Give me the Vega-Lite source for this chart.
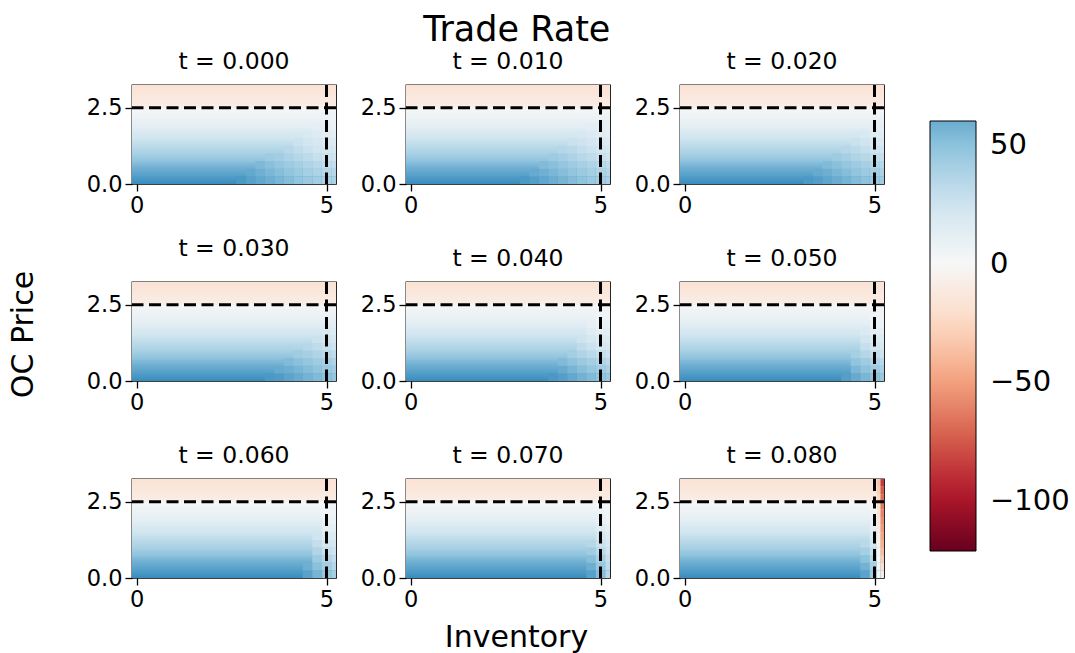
{
"$schema":"https://vega.github.io/schema/vega-lite/v6.json",
"background":"white",
"padding":{"left":7,"top":13,"right":5,"bottom":2},
"title":{"text":"Trade Rate","fontSize":35,"anchor":"middle","frame":"bounds","offset":1,"dx":-22},
"datasets":{
"cols":[{"k":"cB","x0":-0.125,"x1":5.25},{"k":"c275","x0":2.625,"x1":2.875},{"k":"c300","x0":2.875,"x1":3.125},{"k":"c325","x0":3.125,"x1":3.375},{"k":"c350","x0":3.375,"x1":3.625},{"k":"c375","x0":3.625,"x1":3.875},{"k":"c400","x0":3.875,"x1":4.125},{"k":"c425","x0":4.125,"x1":4.375},{"k":"c450","x0":4.375,"x1":4.625},{"k":"c475","x0":4.625,"x1":4.875},{"k":"c500","x0":4.875,"x1":5.125},{"k":"c519","x0":5.125,"x1":5.25},{"k":"d2","x0":4.875,"x1":5.0625},{"k":"d3","x0":5.0625,"x1":5.15625},{"k":"d4","x0":5.15625,"x1":5.25}],
"one":[{"a":1}],
"heat":[
{"p":-1,"y0":0,"y1":0.0925,"cB":73.7},
{"p":-1,"y0":0.0625,"y1":0.155,"cB":71.7},
{"p":-1,"y0":0.125,"y1":0.2175,"cB":69.7},
{"p":-1,"y0":0.1875,"y1":0.28,"cB":67.8},
{"p":-1,"y0":0.25,"y1":0.3425,"cB":65.8},
{"p":-1,"y0":0.3125,"y1":0.405,"cB":63.8},
{"p":-1,"y0":0.375,"y1":0.4675,"cB":61.8},
{"p":-1,"y0":0.4375,"y1":0.53,"cB":60.1},
{"p":-1,"y0":0.5,"y1":0.5925,"cB":58.1},
{"p":-1,"y0":0.5625,"y1":0.655,"cB":55.7},
{"p":-1,"y0":0.625,"y1":0.7175,"cB":53.3},
{"p":-1,"y0":0.6875,"y1":0.78,"cB":50.8},
{"p":-1,"y0":0.75,"y1":0.8425,"cB":48.4},
{"p":-1,"y0":0.8125,"y1":0.905,"cB":46},
{"p":-1,"y0":0.875,"y1":0.9675,"cB":43.6},
{"p":-1,"y0":0.9375,"y1":1.03,"cB":41.2},
{"p":-1,"y0":1,"y1":1.0925,"cB":38.9},
{"p":-1,"y0":1.0625,"y1":1.155,"cB":37},
{"p":-1,"y0":1.125,"y1":1.2175,"cB":35},
{"p":-1,"y0":1.1875,"y1":1.28,"cB":33.1},
{"p":-1,"y0":1.25,"y1":1.3425,"cB":31.1},
{"p":-1,"y0":1.3125,"y1":1.405,"cB":29.1},
{"p":-1,"y0":1.375,"y1":1.4675,"cB":27.2},
{"p":-1,"y0":1.4375,"y1":1.53,"cB":25.2},
{"p":-1,"y0":1.5,"y1":1.5925,"cB":23.3},
{"p":-1,"y0":1.5625,"y1":1.655,"cB":21.5},
{"p":-1,"y0":1.625,"y1":1.7175,"cB":19.7},
{"p":-1,"y0":1.6875,"y1":1.78,"cB":17.9},
{"p":-1,"y0":1.75,"y1":1.8425,"cB":16},
{"p":-1,"y0":1.8125,"y1":1.905,"cB":14.2},
{"p":-1,"y0":1.875,"y1":1.9675,"cB":12.4},
{"p":-1,"y0":1.9375,"y1":2.03,"cB":10.6},
{"p":-1,"y0":2,"y1":2.0925,"cB":9.1},
{"p":-1,"y0":2.0625,"y1":2.155,"cB":8.1},
{"p":-1,"y0":2.125,"y1":2.2175,"cB":7},
{"p":-1,"y0":2.1875,"y1":2.28,"cB":6},
{"p":-1,"y0":2.25,"y1":2.3425,"cB":4.9},
{"p":-1,"y0":2.3125,"y1":2.405,"cB":3.9},
{"p":-1,"y0":2.375,"y1":2.4675,"cB":2.8},
{"p":-1,"y0":2.4375,"y1":2.53,"cB":1.7},
{"p":-1,"y0":2.5,"y1":2.655,"cB":-9},
{"p":-1,"y0":2.625,"y1":2.78,"cB":-11},
{"p":-1,"y0":2.75,"y1":2.905,"cB":-12.5},
{"p":-1,"y0":2.875,"y1":3.03,"cB":-14},
{"p":-1,"y0":3,"y1":3.155,"cB":-15.5},
{"p":-1,"y0":3.125,"y1":3.25,"cB":-17},
{"p":0,"y0":0,"y1":0.25,"c275":69,"c300":65.8,"c325":62.3,"c350":58.8,"c375":55.3,"c400":51.8,"c425":48.3,"c450":44.8,"c475":41.3,"c500":38.9,"c519":38.9},
{"p":0,"y0":0.25,"y1":0.5,"c300":62,"c325":58.6,"c350":55.1,"c375":51.6,"c400":48.1,"c425":44.6,"c450":41.1,"c475":37.6,"c500":34.5,"c519":34.5},
{"p":0,"y0":0.5,"y1":0.75,"c325":54,"c350":51,"c375":47.5,"c400":44,"c425":40.5,"c450":37,"c475":33.5,"c500":30,"c519":30},
{"p":0,"y0":0.75,"y1":1,"c350":44,"c375":42,"c400":38.5,"c425":35,"c450":31.5,"c475":28,"c500":24.6,"c519":24.6},
{"p":0,"y0":1,"y1":1.25,"c400":34,"c425":30.4,"c450":26.9,"c475":23.4,"c500":19.9,"c519":19.8},
{"p":0,"y0":1.25,"y1":1.5,"c425":26,"c450":23.3,"c475":19.8,"c500":16.3,"c519":15.5},
{"p":0,"y0":1.5,"y1":1.75,"c450":19,"c475":16.4,"c500":12.9,"c519":11.3},
{"p":0,"y0":1.75,"y1":2,"c475":12,"c500":9.8,"c519":7.3},
{"p":0,"y0":2,"y1":2.25,"c500":7,"c519":6},
{"p":1,"y0":0,"y1":0.25,"c300":69,"c325":66.4,"c350":62.9,"c375":59.4,"c400":55.9,"c425":52.4,"c450":48.9,"c475":45.4,"c500":41.9,"c519":39.2},
{"p":1,"y0":0.25,"y1":0.5,"c325":61,"c350":58.7,"c375":55.2,"c400":51.7,"c425":48.2,"c450":44.7,"c475":41.2,"c500":37.7,"c519":35.1},
{"p":1,"y0":0.5,"y1":0.75,"c350":53,"c375":50.9,"c400":47.4,"c425":43.9,"c450":40.4,"c475":36.9,"c500":33.4,"c519":30.7},
{"p":1,"y0":0.75,"y1":1,"c375":43.5,"c400":41.4,"c425":37.9,"c450":34.4,"c475":30.9,"c500":27.4,"c519":24.8},
{"p":1,"y0":1,"y1":1.25,"c400":35,"c425":33,"c450":29.6,"c475":26.1,"c500":22.6,"c519":19.9},
{"p":1,"y0":1.25,"y1":1.5,"c425":27,"c450":25.5,"c475":22,"c500":18.5,"c519":15.9},
{"p":1,"y0":1.5,"y1":1.75,"c450":20,"c475":18.4,"c500":14.9,"c519":12.2},
{"p":1,"y0":1.75,"y1":2,"c475":13,"c500":11.3,"c519":8.7},
{"p":2,"y0":0,"y1":0.25,"c325":69,"c350":66.8,"c375":63.3,"c400":59.8,"c425":56.3,"c450":52.8,"c475":49.3,"c500":45.8,"c519":43.2},
{"p":2,"y0":0.25,"y1":0.5,"c350":61,"c375":58.9,"c400":55.4,"c425":51.9,"c450":48.4,"c475":44.9,"c500":41.4,"c519":38.8},
{"p":2,"y0":0.5,"y1":0.75,"c375":53,"c400":50.6,"c425":47.1,"c450":43.6,"c475":40.1,"c500":36.6,"c519":34},
{"p":2,"y0":0.75,"y1":1,"c400":43.5,"c425":40.9,"c450":37.4,"c475":33.9,"c500":30.4,"c519":27.8},
{"p":2,"y0":1,"y1":1.25,"c425":35,"c450":32.1,"c475":28.6,"c500":25.1,"c519":22.5},
{"p":2,"y0":1.25,"y1":1.5,"c450":27,"c475":24.3,"c500":20.8,"c519":18.2},
{"p":2,"y0":1.5,"y1":1.75,"c475":19,"c500":16.7,"c519":14.1},
{"p":2,"y0":1.75,"y1":2,"c500":12,"c519":10.3},
{"p":3,"y0":0,"y1":0.25,"c350":69,"c375":67.3,"c400":63.8,"c425":60.3,"c450":56.8,"c475":53.3,"c500":49.8,"c519":47.2},
{"p":3,"y0":0.25,"y1":0.5,"c375":61,"c400":59.2,"c425":55.7,"c450":52.2,"c475":48.7,"c500":45.2,"c519":42.5},
{"p":3,"y0":0.5,"y1":0.75,"c400":53,"c425":50.4,"c450":46.9,"c475":43.4,"c500":39.9,"c519":37.3},
{"p":3,"y0":0.75,"y1":1,"c425":43,"c450":40.5,"c475":37,"c500":33.5,"c519":30.8},
{"p":3,"y0":1,"y1":1.25,"c450":34,"c475":31.2,"c500":27.7,"c519":25.1},
{"p":3,"y0":1.25,"y1":1.5,"c475":26,"c500":23.2,"c519":20.5},
{"p":3,"y0":1.5,"y1":1.75,"c500":18.6,"c519":16},
{"p":3,"y0":1.75,"y1":2,"c519":12},
{"p":4,"y0":0,"y1":0.25,"c375":69.5,"c400":66.4,"c425":61.9,"c450":57.4,"c475":52.9,"c500":48.4,"c519":45},
{"p":4,"y0":0.25,"y1":0.5,"c400":60.5,"c425":56,"c450":51.5,"c475":47,"c500":42.5,"c519":39},
{"p":4,"y0":0.5,"y1":0.75,"c400":53,"c425":49.6,"c450":45.1,"c475":40.6,"c500":36.1,"c519":32.7},
{"p":4,"y0":0.75,"y1":1,"c425":41.9,"c450":37.4,"c475":32.9,"c500":28.4,"c519":25},
{"p":4,"y0":1,"y1":1.25,"c450":30.8,"c475":26.3,"c500":21.8,"c519":19.8},
{"p":4,"y0":1.25,"y1":1.5,"c450":25,"c475":20.5,"c500":16,"c519":15.5},
{"p":4,"y0":1.5,"y1":1.75,"c475":14.8,"c500":11.3,"c519":11.3},
{"p":4,"y0":1.75,"y1":2,"c475":9.5,"c500":7.3,"c519":7.3},
{"p":4,"y0":2,"y1":2.25,"c500":4.5,"c519":4.1},
{"p":5,"y0":0,"y1":0.25,"c425":66.3,"c450":60.8,"c475":55.3,"c500":49.8,"c519":45.6},
{"p":5,"y0":0.25,"y1":0.5,"c450":54.9,"c475":49.4,"c500":43.9,"c519":39.7},
{"p":5,"y0":0.5,"y1":0.75,"c450":48.6,"c475":43.1,"c500":37.6,"c519":33.4},
{"p":5,"y0":0.75,"y1":1,"c450":40.8,"c475":35.3,"c500":29.8,"c519":25.7},
{"p":5,"y0":1,"y1":1.25,"c475":28.7,"c500":23.2,"c519":19.8},
{"p":5,"y0":1.25,"y1":1.5,"c475":22.9,"c500":17.4,"c519":15.5},
{"p":5,"y0":1.5,"y1":1.75,"c475":17.3,"c500":11.8,"c519":11.3},
{"p":5,"y0":1.75,"y1":2,"c500":7.3,"c519":7.3},
{"p":5,"y0":2,"y1":2.25,"c500":4.5,"c519":4.1},
{"p":6,"y0":0,"y1":0.25,"c450":64.7,"c475":56,"c500":47.2,"c519":40.6},
{"p":6,"y0":0.25,"y1":0.5,"c450":58.9,"c475":50.2,"c500":41.4,"c519":34.8},
{"p":6,"y0":0.5,"y1":0.75,"c475":44,"c500":35.2,"c519":30},
{"p":6,"y0":0.75,"y1":1,"c475":36.4,"c500":27.6,"c519":24.6},
{"p":6,"y0":1,"y1":1.25,"c475":29.7,"c500":21,"c519":19.8},
{"p":6,"y0":1.25,"y1":1.5,"c475":24,"c500":15.5,"c519":15.5},
{"p":6,"y0":1.5,"y1":1.75,"c500":11.3,"c519":11.3},
{"p":6,"y0":1.75,"y1":2,"c500":7.3,"c519":7.3},
{"p":6,"y0":2,"y1":2.25,"c500":4.5,"c519":4.1},
{"p":7,"y0":0,"y1":0.25,"c475":65.5,"c500":52,"c519":35},
{"p":7,"y0":0.25,"y1":0.5,"c475":59.2,"c500":46,"c519":32},
{"p":7,"y0":0.5,"y1":0.75,"c475":51.5,"c500":40,"c519":28},
{"p":7,"y0":0.75,"y1":1,"c475":42.5,"c500":33,"c519":23},
{"p":7,"y0":1,"y1":1.25,"c475":34.5,"c500":27,"c519":19},
{"p":7,"y0":1.25,"y1":1.5,"c500":21,"c519":15},
{"p":7,"y0":1.5,"y1":1.75,"c500":15.5,"c519":11},
{"p":7,"y0":1.75,"y1":2,"c500":9.5,"c519":7.3},
{"p":7,"y0":2,"y1":2.25,"c519":4.1},
{"p":8,"y0":0,"y1":0.25,"c475":64,"d2":45,"d3":4,"d4":-10},
{"p":8,"y0":0.25,"y1":0.5,"c475":57,"d2":40,"d3":2,"d4":-20},
{"p":8,"y0":0.5,"y1":0.75,"c475":49.5,"d2":34,"d3":0,"d4":-30},
{"p":8,"y0":0.75,"y1":1,"c475":41,"d2":28,"d3":-3,"d4":-38},
{"p":8,"y0":1,"y1":1.25,"c475":33,"d2":22,"d3":-6,"d4":-44},
{"p":8,"y0":1.25,"y1":1.5,"d2":17,"d3":-9,"d4":-48},
{"p":8,"y0":1.5,"y1":1.75,"d2":12,"d3":-12,"d4":-52},
{"p":8,"y0":1.75,"y1":2,"d2":8,"d3":-15,"d4":-56},
{"p":8,"y0":2,"y1":2.25,"d2":5,"d3":-18,"d4":-60},
{"p":8,"y0":2.25,"y1":2.5,"d2":2,"d3":-21,"d4":-64},
{"p":8,"y0":2.5,"y1":2.75,"d3":-26,"d4":-68},
{"p":8,"y0":2.75,"y1":3,"d3":-30,"d4":-74},
{"p":8,"y0":3,"y1":3.25,"d3":-34,"d4":-85}
]},
"data":{"name":"heat"},
"transform":[
{"fold":["cB","c275","c300","c325","c350","c375","c400","c425","c450","c475","c500","c519","d2","d3","d4"],"as":["k","v"]},
{"filter":"isValid(datum.v)"},
{"lookup":"k","from":{"data":{"name":"cols"},"key":"k","fields":["x0","x1"]}}
],
"columns":3,
"bounds":"flush",
"spacing":{"row":98,"column":70},
"concat":[
{"title":"t = 0.000","width":204,"height":99,"layer":[
{"transform":[{"filter":"datum.p == -1 || datum.p == 0"}],"mark":{"type":"rect"},"encoding":{
"x":{"field":"x0","type":"quantitative","scale":{"domain":[-0.125,5.25],"nice":false,"zero":false},"axis":{"values":[0,5],"format":"d","title":null}},
"x2":{"field":"x1"},
"y":{"field":"y0","type":"quantitative","scale":{"domain":[0,3.25],"nice":false,"zero":false},"axis":{"values":[0,2.5],"format":".1f","title":null}},
"y2":{"field":"y1"},
"color":{"field":"v","type":"quantitative","scale":{"type":"linear","domain":[-121,-96.8,-72.6,-48.4,-24.2,0,24.2,48.4,60],"range":["#67001f","#b2182b","#d6604d","#f4a582","#fddbc7","#f7f7f7","#d1e5f0","#92c5de","#6aacd0"],"interpolate":"rgb","clamp":false,"zero":false,"nice":false},"legend":{"type":"gradient","orient":"none","legendX":798,"legendY":36,"direction":"vertical","values":[50,0,-50,-100],"title":null,"labelOffset":14,"labelExpr":"replace(datum.label, '-', '−')"}}}},
{"data":{"name":"one"},"mark":{"type":"rule","color":"black","strokeWidth":3,"strokeDash":[12,5.5]},"encoding":{"y":{"datum":2.5}}},
{"data":{"name":"one"},"mark":{"type":"rule","color":"black","strokeWidth":3,"strokeDash":[12,5.5]},"encoding":{"x":{"datum":5}}}
]},
{"title":"t = 0.010","width":204,"height":99,"layer":[
{"transform":[{"filter":"datum.p == -1 || datum.p == 1"}],"mark":{"type":"rect"},"encoding":{
"x":{"field":"x0","type":"quantitative","scale":{"domain":[-0.125,5.25],"nice":false,"zero":false},"axis":{"values":[0,5],"format":"d","title":null}},
"x2":{"field":"x1"},
"y":{"field":"y0","type":"quantitative","scale":{"domain":[0,3.25],"nice":false,"zero":false},"axis":{"values":[0,2.5],"format":".1f","title":null}},
"y2":{"field":"y1"},
"color":{"field":"v","type":"quantitative","scale":{"type":"linear","domain":[-121,-96.8,-72.6,-48.4,-24.2,0,24.2,48.4,60],"range":["#67001f","#b2182b","#d6604d","#f4a582","#fddbc7","#f7f7f7","#d1e5f0","#92c5de","#6aacd0"],"interpolate":"rgb","clamp":false,"zero":false,"nice":false},"legend":{"type":"gradient","orient":"none","legendX":798,"legendY":36,"direction":"vertical","values":[50,0,-50,-100],"title":null,"labelOffset":14,"labelExpr":"replace(datum.label, '-', '−')"}}}},
{"data":{"name":"one"},"mark":{"type":"rule","color":"black","strokeWidth":3,"strokeDash":[12,5.5]},"encoding":{"y":{"datum":2.5}}},
{"data":{"name":"one"},"mark":{"type":"rule","color":"black","strokeWidth":3,"strokeDash":[12,5.5]},"encoding":{"x":{"datum":5}}}
]},
{"title":"t = 0.020","width":204,"height":99,"layer":[
{"transform":[{"filter":"datum.p == -1 || datum.p == 2"}],"mark":{"type":"rect"},"encoding":{
"x":{"field":"x0","type":"quantitative","scale":{"domain":[-0.125,5.25],"nice":false,"zero":false},"axis":{"values":[0,5],"format":"d","title":null}},
"x2":{"field":"x1"},
"y":{"field":"y0","type":"quantitative","scale":{"domain":[0,3.25],"nice":false,"zero":false},"axis":{"values":[0,2.5],"format":".1f","title":null}},
"y2":{"field":"y1"},
"color":{"field":"v","type":"quantitative","scale":{"type":"linear","domain":[-121,-96.8,-72.6,-48.4,-24.2,0,24.2,48.4,60],"range":["#67001f","#b2182b","#d6604d","#f4a582","#fddbc7","#f7f7f7","#d1e5f0","#92c5de","#6aacd0"],"interpolate":"rgb","clamp":false,"zero":false,"nice":false},"legend":{"type":"gradient","orient":"none","legendX":798,"legendY":36,"direction":"vertical","values":[50,0,-50,-100],"title":null,"labelOffset":14,"labelExpr":"replace(datum.label, '-', '−')"}}}},
{"data":{"name":"one"},"mark":{"type":"rule","color":"black","strokeWidth":3,"strokeDash":[12,5.5]},"encoding":{"y":{"datum":2.5}}},
{"data":{"name":"one"},"mark":{"type":"rule","color":"black","strokeWidth":3,"strokeDash":[12,5.5]},"encoding":{"x":{"datum":5}}}
]},
{"title":"t = 0.030","width":204,"height":99,"layer":[
{"transform":[{"filter":"datum.p == -1 || datum.p == 3"}],"mark":{"type":"rect"},"encoding":{
"x":{"field":"x0","type":"quantitative","scale":{"domain":[-0.125,5.25],"nice":false,"zero":false},"axis":{"values":[0,5],"format":"d","title":null}},
"x2":{"field":"x1"},
"y":{"field":"y0","type":"quantitative","scale":{"domain":[0,3.25],"nice":false,"zero":false},"axis":{"values":[0,2.5],"format":".1f","title":"OC Price","titlePadding":48,"titleY":52}},
"y2":{"field":"y1"},
"color":{"field":"v","type":"quantitative","scale":{"type":"linear","domain":[-121,-96.8,-72.6,-48.4,-24.2,0,24.2,48.4,60],"range":["#67001f","#b2182b","#d6604d","#f4a582","#fddbc7","#f7f7f7","#d1e5f0","#92c5de","#6aacd0"],"interpolate":"rgb","clamp":false,"zero":false,"nice":false},"legend":{"type":"gradient","orient":"none","legendX":798,"legendY":36,"direction":"vertical","values":[50,0,-50,-100],"title":null,"labelOffset":14,"labelExpr":"replace(datum.label, '-', '−')"}}}},
{"data":{"name":"one"},"mark":{"type":"rule","color":"black","strokeWidth":3,"strokeDash":[12,5.5]},"encoding":{"y":{"datum":2.5}}},
{"data":{"name":"one"},"mark":{"type":"rule","color":"black","strokeWidth":3,"strokeDash":[12,5.5]},"encoding":{"x":{"datum":5}}}
]},
{"title":"t = 0.040","width":204,"height":99,"layer":[
{"transform":[{"filter":"datum.p == -1 || datum.p == 4"}],"mark":{"type":"rect"},"encoding":{
"x":{"field":"x0","type":"quantitative","scale":{"domain":[-0.125,5.25],"nice":false,"zero":false},"axis":{"values":[0,5],"format":"d","title":null}},
"x2":{"field":"x1"},
"y":{"field":"y0","type":"quantitative","scale":{"domain":[0,3.25],"nice":false,"zero":false},"axis":{"values":[0,2.5],"format":".1f","title":null}},
"y2":{"field":"y1"},
"color":{"field":"v","type":"quantitative","scale":{"type":"linear","domain":[-121,-96.8,-72.6,-48.4,-24.2,0,24.2,48.4,60],"range":["#67001f","#b2182b","#d6604d","#f4a582","#fddbc7","#f7f7f7","#d1e5f0","#92c5de","#6aacd0"],"interpolate":"rgb","clamp":false,"zero":false,"nice":false},"legend":{"type":"gradient","orient":"none","legendX":798,"legendY":36,"direction":"vertical","values":[50,0,-50,-100],"title":null,"labelOffset":14,"labelExpr":"replace(datum.label, '-', '−')"}}}},
{"data":{"name":"one"},"mark":{"type":"rule","color":"black","strokeWidth":3,"strokeDash":[12,5.5]},"encoding":{"y":{"datum":2.5}}},
{"data":{"name":"one"},"mark":{"type":"rule","color":"black","strokeWidth":3,"strokeDash":[12,5.5]},"encoding":{"x":{"datum":5}}}
]},
{"title":"t = 0.050","width":204,"height":99,"layer":[
{"transform":[{"filter":"datum.p == -1 || datum.p == 5"}],"mark":{"type":"rect"},"encoding":{
"x":{"field":"x0","type":"quantitative","scale":{"domain":[-0.125,5.25],"nice":false,"zero":false},"axis":{"values":[0,5],"format":"d","title":null}},
"x2":{"field":"x1"},
"y":{"field":"y0","type":"quantitative","scale":{"domain":[0,3.25],"nice":false,"zero":false},"axis":{"values":[0,2.5],"format":".1f","title":null}},
"y2":{"field":"y1"},
"color":{"field":"v","type":"quantitative","scale":{"type":"linear","domain":[-121,-96.8,-72.6,-48.4,-24.2,0,24.2,48.4,60],"range":["#67001f","#b2182b","#d6604d","#f4a582","#fddbc7","#f7f7f7","#d1e5f0","#92c5de","#6aacd0"],"interpolate":"rgb","clamp":false,"zero":false,"nice":false},"legend":{"type":"gradient","orient":"none","legendX":798,"legendY":36,"direction":"vertical","values":[50,0,-50,-100],"title":null,"labelOffset":14,"labelExpr":"replace(datum.label, '-', '−')"}}}},
{"data":{"name":"one"},"mark":{"type":"rule","color":"black","strokeWidth":3,"strokeDash":[12,5.5]},"encoding":{"y":{"datum":2.5}}},
{"data":{"name":"one"},"mark":{"type":"rule","color":"black","strokeWidth":3,"strokeDash":[12,5.5]},"encoding":{"x":{"datum":5}}}
]},
{"title":"t = 0.060","width":204,"height":99,"layer":[
{"transform":[{"filter":"datum.p == -1 || datum.p == 6"}],"mark":{"type":"rect"},"encoding":{
"x":{"field":"x0","type":"quantitative","scale":{"domain":[-0.125,5.25],"nice":false,"zero":false},"axis":{"values":[0,5],"format":"d","title":null}},
"x2":{"field":"x1"},
"y":{"field":"y0","type":"quantitative","scale":{"domain":[0,3.25],"nice":false,"zero":false},"axis":{"values":[0,2.5],"format":".1f","title":null}},
"y2":{"field":"y1"},
"color":{"field":"v","type":"quantitative","scale":{"type":"linear","domain":[-121,-96.8,-72.6,-48.4,-24.2,0,24.2,48.4,60],"range":["#67001f","#b2182b","#d6604d","#f4a582","#fddbc7","#f7f7f7","#d1e5f0","#92c5de","#6aacd0"],"interpolate":"rgb","clamp":false,"zero":false,"nice":false},"legend":{"type":"gradient","orient":"none","legendX":798,"legendY":36,"direction":"vertical","values":[50,0,-50,-100],"title":null,"labelOffset":14,"labelExpr":"replace(datum.label, '-', '−')"}}}},
{"data":{"name":"one"},"mark":{"type":"rule","color":"black","strokeWidth":3,"strokeDash":[12,5.5]},"encoding":{"y":{"datum":2.5}}},
{"data":{"name":"one"},"mark":{"type":"rule","color":"black","strokeWidth":3,"strokeDash":[12,5.5]},"encoding":{"x":{"datum":5}}}
]},
{"title":"t = 0.070","width":204,"height":99,"layer":[
{"transform":[{"filter":"datum.p == -1 || datum.p == 7"}],"mark":{"type":"rect"},"encoding":{
"x":{"field":"x0","type":"quantitative","scale":{"domain":[-0.125,5.25],"nice":false,"zero":false},"axis":{"values":[0,5],"format":"d","title":"Inventory","titlePadding":12,"titleX":110}},
"x2":{"field":"x1"},
"y":{"field":"y0","type":"quantitative","scale":{"domain":[0,3.25],"nice":false,"zero":false},"axis":{"values":[0,2.5],"format":".1f","title":null}},
"y2":{"field":"y1"},
"color":{"field":"v","type":"quantitative","scale":{"type":"linear","domain":[-121,-96.8,-72.6,-48.4,-24.2,0,24.2,48.4,60],"range":["#67001f","#b2182b","#d6604d","#f4a582","#fddbc7","#f7f7f7","#d1e5f0","#92c5de","#6aacd0"],"interpolate":"rgb","clamp":false,"zero":false,"nice":false},"legend":{"type":"gradient","orient":"none","legendX":798,"legendY":36,"direction":"vertical","values":[50,0,-50,-100],"title":null,"labelOffset":14,"labelExpr":"replace(datum.label, '-', '−')"}}}},
{"data":{"name":"one"},"mark":{"type":"rule","color":"black","strokeWidth":3,"strokeDash":[12,5.5]},"encoding":{"y":{"datum":2.5}}},
{"data":{"name":"one"},"mark":{"type":"rule","color":"black","strokeWidth":3,"strokeDash":[12,5.5]},"encoding":{"x":{"datum":5}}}
]},
{"title":"t = 0.080","width":204,"height":99,"layer":[
{"transform":[{"filter":"datum.p == -1 || datum.p == 8"}],"mark":{"type":"rect"},"encoding":{
"x":{"field":"x0","type":"quantitative","scale":{"domain":[-0.125,5.25],"nice":false,"zero":false},"axis":{"values":[0,5],"format":"d","title":null}},
"x2":{"field":"x1"},
"y":{"field":"y0","type":"quantitative","scale":{"domain":[0,3.25],"nice":false,"zero":false},"axis":{"values":[0,2.5],"format":".1f","title":null}},
"y2":{"field":"y1"},
"color":{"field":"v","type":"quantitative","scale":{"type":"linear","domain":[-121,-96.8,-72.6,-48.4,-24.2,0,24.2,48.4,60],"range":["#67001f","#b2182b","#d6604d","#f4a582","#fddbc7","#f7f7f7","#d1e5f0","#92c5de","#6aacd0"],"interpolate":"rgb","clamp":false,"zero":false,"nice":false},"legend":{"type":"gradient","orient":"none","legendX":798,"legendY":36,"direction":"vertical","values":[50,0,-50,-100],"title":null,"labelOffset":14,"labelExpr":"replace(datum.label, '-', '−')"}}}},
{"data":{"name":"one"},"mark":{"type":"rule","color":"black","strokeWidth":3,"strokeDash":[12,5.5]},"encoding":{"y":{"datum":2.5}}},
{"data":{"name":"one"},"mark":{"type":"rule","color":"black","strokeWidth":3,"strokeDash":[12,5.5]},"encoding":{"x":{"datum":5}}}
]}
],
"config":{
"font":"DejaVu Sans",
"view":{"stroke":"black","strokeWidth":1.3},
"axis":{"labelFont":"DejaVu Sans","labelFontSize":22.5,"labelColor":"black","labelPadding":3,"labelFlush":false,"labelOverlap":false,"tickColor":"black","tickSize":7,"tickWidth":1.3,"domain":false,"grid":false,"titleFont":"DejaVu Sans","titleFontSize":30,"titleFontWeight":"normal","titleColor":"black"},
"title":{"font":"DejaVu Sans","fontSize":23.5,"fontWeight":"normal","color":"black","offset":10},
"legend":{"gradientLength":430,"gradientThickness":46,"gradientStrokeColor":"black","gradientStrokeWidth":1,"labelFont":"DejaVu Sans","labelFontSize":29,"labelColor":"black","padding":0,"labelOverlap":false}
}
}
